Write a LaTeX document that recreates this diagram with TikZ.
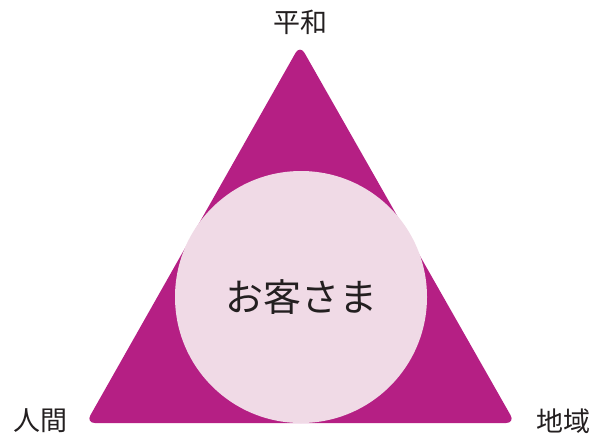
\documentclass[tikz,border=0pt]{standalone}
\usepackage{fontspec}
\newfontfamily\jpfont{Noto Sans CJK JP}
\usetikzlibrary{positioning,calc}
\definecolor{trimagenta}{HTML}{B51F84}
\definecolor{circpink}{HTML}{F0DAE6}
\definecolor{labelgray}{HTML}{231F20}
\tikzstyle{corner} = [text=labelgray, font=\jpfont\fontsize{27}{27}\selectfont, inner sep=0pt]
\tikzstyle{center} = [circle, fill=circpink, minimum size=252pt, inner sep=0pt, text=labelgray, font=\jpfont\fontsize{38}{38}\selectfont]
\tikzstyle{triangle} = [fill=trimagenta, rounded corners=9pt]

\begin{document}
\begin{tikzpicture}[x=1pt,y=-1pt]
\useasboundingbox (0,0) rectangle (596,437);
\coordinate (top) at (300,45);
\coordinate (left) at (86,423);
\coordinate (right) at (515,423);
\fill [triangle] (top) -- (right) -- (left) -- cycle;
\node (guest) [center] at (301,297) {お客さま};
\node (peace) [corner] at (300,22) {平和};
\node (human) [corner] at (40,421) {人間};
\node (region) [corner] at (563,421) {地域};
\end{tikzpicture}
\end{document}
